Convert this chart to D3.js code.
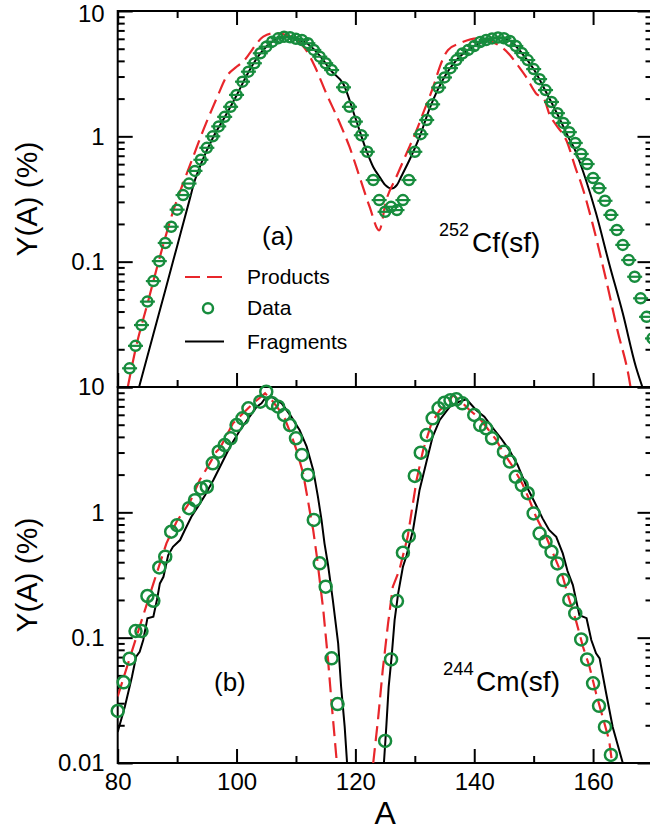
<!DOCTYPE html>
<html>
<head>
<meta charset="utf-8">
<script src="https://cdn.jsdelivr.net/npm/d3@7"></script>
<style>
  body { margin: 0; background: #fff; }
  svg text { font-family: "Liberation Sans", Arial, Helvetica, sans-serif; fill: #000; }
</style>
</head>
<body>
<svg id="chart" width="650" height="830"></svg>
<script>
// ---- data: [A, Y(A) %] ----
// 252Cf(sf)
const cfData = [
  [82,0.0141],[83,0.0213],[84,0.0312],[85,0.048],[86,0.070],[87,0.101],[88,0.141],[89,0.19],[90,0.26],
  [91,0.34],[92,0.42],[93,0.53],[94,0.65],[95,0.81],[96,1.0],[97,1.2],[98,1.43],[99,1.72],[100,2.14],
  [101,2.73],[102,3.28],[103,3.83],[104,4.6],[105,5.19],[106,5.69],[107,6.05],[108,6.23],[109,6.17],
  [110,6.0],[111,5.87],[112,5.53],[113,4.89],[114,4.32],[115,3.83],[116,3.38],[118,2.46],[119,1.72],
  [120,1.31],[121,1.02],[122,0.753],[123,0.448],[124,0.31],[125,0.25],[126,0.274],[127,0.258],[128,0.31],
  [129,0.448],[130,0.753],[131,1.04],[132,1.35],[133,1.8],[134,2.45],[135,2.95],[136,3.5],[137,4.06],
  [138,4.58],[139,4.89],[140,5.26],[141,5.66],[142,5.87],[143,6.04],[144,6.15],[145,6.06],[146,5.77],
  [147,5.26],[148,4.62],[149,4.06],[150,3.44],[151,2.86],[152,2.34],[153,1.88],[154,1.53],[155,1.28],
  [156,1.08],[157,0.885],[158,0.723],[159,0.601],[160,0.465],[161,0.386],[162,0.306],[163,0.236],
  [164,0.179],[165,0.136],[166,0.103],[167,0.0758],[168,0.051],[169,0.0363],[170,0.0244]
];
const cfProducts = [
  [81.7,0.01],[83,0.02],[85,0.046],[87,0.105],[89.3,0.25],[91.3,0.46],[92.7,0.687],[94.4,1.12],[95.8,1.62],
  [96.9,2.14],[98.3,2.99],[100,3.59],[101.1,3.94],[102.2,4.59],[103.4,5.52],[104.5,6.24],[106.2,6.64],
  [108.4,6.43],[110.1,5.87],[111.5,5.04],[113.2,3.59],[115.1,2.2],[117.3,1.3],[119,0.826],[120.7,0.476],
  [122.4,0.274],[124,0.178],[125.2,0.31],[126.9,0.476],[128.6,0.73],[130.3,1.12],[131.4,1.53],[133.3,2.65],
  [134.2,3.59],[135.6,4.89],[137.5,5.5],[140.5,6.05],[143,5.69],[146,4.46],[147.3,3.7],[148.7,2.99],
  [150.4,2.2],[151.8,1.95],[152.7,1.48],[153.8,1.23],[155.5,0.93],[157.1,0.55],[158,0.42],[159.9,0.202],
  [162.2,0.0713],[164.1,0.0284],[166.1,0.0114],[166.3,0.01]
];
const cfFragments = [
  [83.6,0.01],[86,0.0264],[88,0.059],[90,0.133],[92,0.30],[93,0.448],[94,0.6],[96,0.97],[98,1.42],[100,2.12],
  [102,3.25],[104,4.6],[106,5.7],[107,6.05],[108,6.2],[109,6.2],[110,6.0],[112,5.45],[114,4.4],[116,3.3],
  [118,2.6],[120,1.4],[122,0.736],[123,0.569],[124,0.48],[125,0.41],[126.1,0.384],[127,0.41],[127.7,0.476],
  [129.1,0.647],[130.8,0.99],[132.5,1.67],[135,2.99],[137,4.06],[140,5.26],[142,5.87],[144,6.15],[146,5.77],
  [148,4.62],[150,3.44],[152,2.3],[154,1.5],[156,0.95],[157,0.77],[158,0.58],[158.8,0.448],[160.5,0.243],
  [162.7,0.0968],[165,0.0387],[167.2,0.0145],[168.3,0.01]
];

// 244Cm(sf)
const cmData = [
  [80,0.026],[81,0.044],[82,0.068],[83,0.113],[84,0.113],[85,0.215],[86,0.197],[87,0.363],[88,0.443],
  [89,0.70],[90,0.79],[92,1.08],[93,1.25],[94,1.55],[95,1.6],[96,2.46],[97,3.05],[98,3.44],[99,3.9],
  [100,4.97],[101,5.63],[102,6.76],[104,7.63],[105,9.17],[106,7.41],[107,6.96],[108,5.98],[109,4.97],
  [110,3.9],[111,2.87],[112,1.99],[113,0.87],[114,0.392],[115,0.255],[116,0.0684],[117,0.0295],
  [125,0.015],[126,0.067],[127,0.196],[128,0.476],[129,0.647],[130,1.95],[131,2.99],[132,4.14],[133,5.62],
  [134,6.76],[135,7.5],[136,7.85],[137,7.98],[138,7.41],[140,5.98],[141,4.97],[142,4.68],[143,3.9],
  [145,3.05],[146,2.54],[147,1.92],[148,1.65],[149,1.42],[150,0.98],[151,0.677],[152,0.582],[153,0.484],
  [154,0.391],[155,0.288],[156,0.2],[157,0.156],[158,0.0969],[159,0.067],[160,0.0432],[161,0.0286],
  [162,0.0194],[163,0.0116]
];
const cmProductsLight = [
  [80,0.034],[82,0.068],[84,0.136],[86,0.27],[88.2,0.566],[89.9,0.841],[92.2,1.22],[93.8,1.81],[95.5,2.46],
  [96.6,3.05],[97.2,3.25],[99.4,5.13],[101.1,6.17],[102.8,7.41],[104.8,8.9],[105.9,7.88],[107,6.76],
  [108.1,5.62],[109.2,4.14],[110.1,3.14],[111.2,2.05],[111.8,1.42],[112.3,1.04],[112.9,0.721],[113.5,0.45],
  [114.6,0.166],[115.4,0.0662],[116,0.0299],[116.9,0.0098]
];
const cmProductsHeavy = [
  [123,0.01],[123.8,0.022],[124.6,0.055],[125.5,0.13],[126.3,0.255],[127.4,0.347],[128.8,0.638],[130.3,1.81],
  [131.4,3.14],[132.8,5.13],[134.2,6.55],[135.6,7.41],[136.4,8.63],[137.8,7.64],[139.2,6.55],[140.9,5.62],
  [142,4.82],[143.7,3.78],[144.8,3.05],[146.5,2.31],[148.2,1.65],[149.3,1.25],[150.4,0.922],[152.1,0.638],
  [153.5,0.443],[154.9,0.306],[156,0.2],[157.1,0.138],[158.3,0.0846],[159.4,0.0586],[160.5,0.036],
  [161.6,0.0234],[162.7,0.0152],[163.2,0.01]
];
const cmFragmentsLight = [
  [80,0.0177],[81.2,0.0281],[82.4,0.0488],[83.1,0.0705],[83.7,0.0771],[84.3,0.0957],[85,0.143],[86,0.147],
  [86.6,0.2],[87.1,0.271],[87.7,0.306],[88.5,0.456],[89.3,0.531],[90.5,0.601],[91.3,0.723],[92.4,0.922],
  [93.5,1.11],[94.7,1.37],[96.1,1.81],[97.2,2.3],[98.9,3.34],[100.6,4.54],[102.2,5.8],[103.4,6.97],
  [104.2,7.41],[104.8,8.13],[105.9,8.37],[107.6,7.41],[109.2,5.8],[110.6,4.54],[111.8,3.34],[112.9,2.18],
  [113.7,1.33],[114.3,0.869],[114.8,0.566],[115.4,0.38],[116.2,0.2],[117.1,0.09],[117.6,0.0405],
  [118.2,0.0194],[118.6,0.01]
];
const cmFragmentsHeavy = [
  [124.8,0.01],[125.2,0.0194],[125.6,0.0405],[126.1,0.0705],[126.6,0.138],[127.2,0.226],[128,0.368],
  [128.6,0.45],[129.7,0.723],[130.8,1.51],[131.9,2.46],[133,4.01],[134.2,5.46],[135.9,6.97],[137.5,7.64],
  [138.7,7.98],[140.3,6.55],[141.7,5.8],[143.4,4.54],[144.5,3.9],[145.9,3.14],[147.3,2.39],[148.7,1.65],
  [150.1,1.22],[151.5,0.895],[152.6,0.723],[153.8,0.638],[154.9,0.47],[155.7,0.34],[156.6,0.263],
  [157.7,0.151],[158.9,0.143],[159.7,0.0957],[160.5,0.075],[161.1,0.0684],[162.2,0.036],[163.3,0.0194],
  [165,0.01]
];

// ticks
const xMajorTicks = [80, 100, 120, 140, 160];
const xMinorTicks = [90, 110, 130, 150];
const yDecades = [0.01, 0.1, 1, 10];
const yLabelsTop = [0.1, 1, 10];
const yLabelsBottom = [0.01, 0.1, 1, 10];
const legendItems = ["Products", "Data", "Fragments"];

const RED = "#e8262b", GREEN = "#178c3d";

const svg = d3.select("#chart");
const x = d3.scaleLinear().domain([80, 170]).range([117.7, 652.5]);
const xL = x.range()[0], xR = x.range()[1];

// minor ticks 2..9 within each decade
const yMinor = [];
[0.01, 0.1, 1].forEach(d => { for (let k = 2; k <= 9; k++) yMinor.push(+(d * k).toPrecision(3)); });

const panels = [
  { id: "a", top: 11, bottom: 387, data: cfData, bar: true, r: 5,
    prods: [cfProducts], frags: [cfFragments], labels: yLabelsTop, topAxis: true, xLabels: false,
    curve: d3.curveMonotoneX },
  { id: "b", top: 387, bottom: 763, data: cmData, bar: false, r: 6,
    prods: [cmProductsLight, cmProductsHeavy], frags: [cmFragmentsLight, cmFragmentsHeavy],
    labels: yLabelsBottom, topAxis: false, xLabels: true, curve: d3.curveLinear }
];

function styleAxis(g, size) {
  g.select(".domain").remove();
  g.selectAll(".tick line").attr("stroke", "#000").attr("stroke-width", 2);
  g.selectAll(".tick text").attr("font-size", size + "px")
    .attr("font-family", '"Liberation Sans", Arial, sans-serif').attr("fill", "#000");
}

panels.forEach(p => {
  const y = d3.scaleLog().domain([0.01, 10]).range([p.bottom, p.top]);

  // left axis
  svg.append("g").attr("transform", `translate(${xL},0)`)
    .call(d3.axisLeft(y).tickValues(yDecades).tickSizeInner(-15).tickSizeOuter(0).tickPadding(13)
      .tickFormat(d => p.labels.includes(d) ? String(d) : ""))
    .call(g => styleAxis(g, 24))
    // keep the topmost label inside the page
    .call(g => g.selectAll(".tick text").filter(d => p.topAxis && d === 10).attr("dy", "0.45em"));
  svg.append("g").attr("transform", `translate(${xL},0)`)
    .call(d3.axisLeft(y).tickValues(yMinor).tickSize(-7).tickFormat(""))
    .call(g => styleAxis(g, 24));
  // right axis
  svg.append("g").attr("transform", `translate(${xR},0)`)
    .call(d3.axisRight(y).tickValues(yDecades).tickSize(-15).tickFormat(""))
    .call(g => styleAxis(g, 24));
  svg.append("g").attr("transform", `translate(${xR},0)`)
    .call(d3.axisRight(y).tickValues(yMinor).tickSize(-7).tickFormat(""))
    .call(g => styleAxis(g, 24));
  // bottom axis
  svg.append("g").attr("transform", `translate(0,${p.bottom})`)
    .call(d3.axisBottom(x).tickValues(xMajorTicks).tickSizeInner(-14).tickSizeOuter(0).tickPadding(10)
      .tickFormat(d => p.xLabels ? String(d) : ""))
    .call(g => styleAxis(g, 24));
  svg.append("g").attr("transform", `translate(0,${p.bottom})`)
    .call(d3.axisBottom(x).tickValues(xMinorTicks).tickSize(-7).tickFormat(""))
    .call(g => styleAxis(g, 24));
  if (p.topAxis) {
    svg.append("g").attr("transform", `translate(0,${p.top})`)
      .call(d3.axisTop(x).tickValues(xMajorTicks).tickSize(-14).tickFormat(""))
      .call(g => styleAxis(g, 24));
    svg.append("g").attr("transform", `translate(0,${p.top})`)
      .call(d3.axisTop(x).tickValues(xMinorTicks).tickSize(-7).tickFormat(""))
      .call(g => styleAxis(g, 24));
  }

  // frame
  svg.append("rect").attr("x", xL).attr("y", p.top).attr("width", xR - xL).attr("height", p.bottom - p.top)
    .attr("fill", "none").attr("stroke", "#000").attr("stroke-width", 2);

  // clip for curves
  svg.append("clipPath").attr("id", "clip-" + p.id).append("rect")
    .attr("x", xL).attr("y", p.top).attr("width", xR - xL).attr("height", p.bottom - p.top);

  const line = d3.line().x(d => x(d[0])).y(d => y(d[1])).curve(p.curve);
  const curves = svg.append("g").attr("clip-path", `url(#clip-${p.id})`);

  curves.selectAll("path.frag").data(p.frags).enter().append("path")
    .attr("class", "frag").attr("d", line)
    .attr("fill", "none").attr("stroke", "#000").attr("stroke-width", 2);
  curves.selectAll("path.prod").data(p.prods).enter().append("path")
    .attr("class", "prod").attr("d", line)
    .attr("fill", "none").attr("stroke", RED).attr("stroke-width", 2.2).attr("stroke-dasharray", "15,7");

  // data markers
  const pts = svg.append("g").selectAll("g").data(p.data).enter().append("g")
    .attr("transform", d => `translate(${x(d[0])},${y(d[1])})`);
  if (p.bar) {
    pts.append("line").attr("x1", -7.5).attr("x2", 7.5)
      .attr("stroke", GREEN).attr("stroke-width", 2.2);
  }
  pts.append("circle").attr("r", p.r)
    .attr("fill", "none").attr("stroke", GREEN).attr("stroke-width", 2.5);

  // y title
  svg.append("text")
    .attr("transform", `translate(37,${(p.top + p.bottom) / 2}) rotate(-90)`)
    .attr("text-anchor", "middle").attr("font-size", "30px")
    .text("Y(A) (%)");
});

// panel annotations
svg.append("text").attr("x", 262).attr("y", 245).attr("font-size", "26px").text("(a)");
svg.append("text").attr("x", 214).attr("y", 691).attr("font-size", "26px").text("(b)");
svg.append("text").attr("x", 439).attr("y", 235.5).attr("font-size", "18px").text("252");
svg.append("text").attr("x", 472).attr("y", 252).attr("font-size", "28px").text("Cf(sf)");
svg.append("text").attr("x", 443).attr("y", 675).attr("font-size", "18.5px").text("244");
svg.append("text").attr("x", 476).attr("y", 691).attr("font-size", "28px").text("Cm(sf)");

// x title
svg.append("text").attr("x", (xL + xR) / 2).attr("y", 824).attr("text-anchor", "middle")
  .attr("font-size", "32px").text("A");

// legend
const leg = svg.append("g");
const legY = [277, 308.3, 341.5];
leg.append("line").attr("x1", 185).attr("x2", 224).attr("y1", legY[0]).attr("y2", legY[0])
  .attr("stroke", RED).attr("stroke-width", 2.2).attr("stroke-dasharray", "15,7");
leg.append("circle").attr("cx", 208).attr("cy", legY[1]).attr("r", 5)
  .attr("fill", "none").attr("stroke", GREEN).attr("stroke-width", 2.5);
leg.append("line").attr("x1", 185).attr("x2", 224).attr("y1", legY[2]).attr("y2", legY[2])
  .attr("stroke", "#000").attr("stroke-width", 2);
leg.selectAll("text").data(legendItems).enter().append("text")
  .attr("x", 247).attr("y", (d, i) => legY[i] + 7).attr("font-size", "21px").text(d => d);
</script>
</body>
</html>
